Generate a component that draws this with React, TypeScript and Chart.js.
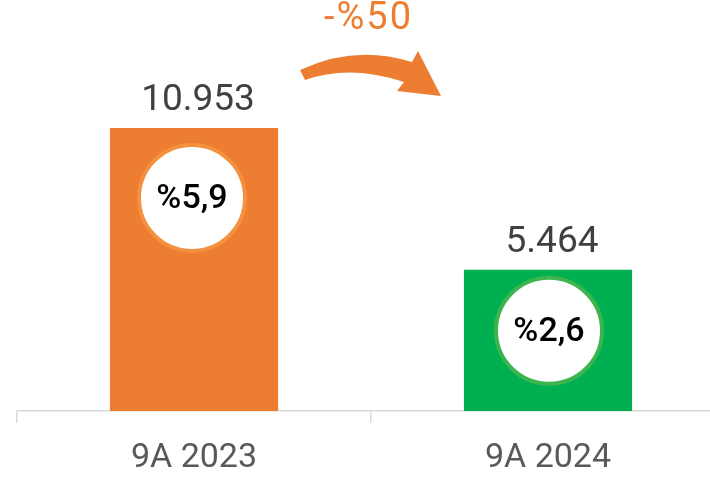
import React, { useEffect, useRef } from "react";
import { Chart, registerables } from "chart.js";

Chart.register(...registerables);

const categories = ["9A 2023", "9A 2024"];
const values = [10953, 5464];
const valueLabels = ["10.953", "5.464"];
const shareLabels = ["%5,9", "%2,6"];
const changeLabel = "-%50";
const barColors = ["#ED7D31", "#00B050"];
const ringColors = ["#F5903F", "#3DB54E"];

const FONT = "Roboto, 'Noto Sans', sans-serif";

const overlayPlugin = {
  id: "overlay",
  afterDatasetsDraw(chart: any) {
    const ctx = chart.ctx;
    const meta = chart.getDatasetMeta(0);
    const circleOffsets = [70, 61];
    meta.data.forEach((bar: any, i: number) => {
      const x = bar.x;
      const top = bar.y;
      ctx.save();
      ctx.fillStyle = "#404040";
      ctx.font = `400 37px ${FONT}`;
      ctx.textAlign = "center";
      ctx.textBaseline = "middle";
      ctx.fillText(valueLabels[i], x + 4, top - 27);
      const cx = x - (i === 0 ? 2 : -1);
      const cy = top + circleOffsets[i];
      ctx.beginPath();
      ctx.arc(cx, cy, 53, 0, Math.PI * 2);
      ctx.fillStyle = "#FFFFFF";
      ctx.fill();
      ctx.lineWidth = 4;
      ctx.strokeStyle = ringColors[i];
      ctx.stroke();
      ctx.fillStyle = "#000000";
      ctx.font = `500 34px ${FONT}`;
      ctx.fillText(shareLabels[i], cx, cy + 2);
      ctx.restore();
    });
  },
  afterDraw(chart: any) {
    const ctx = chart.ctx;
    ctx.save();
    ctx.fillStyle = "#ED7D31";
    ctx.beginPath();
    ctx.moveTo(300, 70);
    ctx.quadraticCurveTo(355, 44, 412, 62);
    ctx.lineTo(418, 51);
    ctx.lineTo(441, 96);
    ctx.lineTo(397, 91);
    ctx.lineTo(404, 82);
    ctx.quadraticCurveTo(350, 64, 305, 80);
    ctx.closePath();
    ctx.fill();
    ctx.font = `400 38px ${FONT}`;
    (ctx as any).letterSpacing = "2px";
    ctx.textAlign = "left";
    ctx.textBaseline = "middle";
    ctx.fillText(changeLabel, 324, 19);
    ctx.restore();
  },
};

export default function App() {
  const ref = useRef<HTMLCanvasElement>(null);
  useEffect(() => {
    if (!ref.current) return;
    const chart = new Chart(ref.current, {
      type: "bar",
      data: {
        labels: categories,
        datasets: [
          {
            data: values,
            backgroundColor: barColors,
            borderWidth: 0,
            categoryPercentage: 1,
            barPercentage: 0.475,
          },
        ],
      },
      options: {
        animation: false,
        responsive: false,
        layout: { padding: { left: 17, right: 2, top: 0, bottom: 0 } },
        plugins: { legend: { display: false }, tooltip: { enabled: false } },
        scales: {
          x: {
            afterFit: (scale: any) => {
              scale.height = 68;
            },
            grid: {
              offset: true,
              drawOnChartArea: false,
              drawTicks: true,
              tickLength: 12,
              color: "#D9D9D9",
              lineWidth: 1.5,
            },
            border: { display: true, color: "#D9D9D9", width: 1.5 },
            ticks: {
              color: "#595959",
              font: { family: FONT, size: 34 },
              padding: 15,
            },
          },
          y: { display: false, min: 0, max: 15900 },
        },
      },
      plugins: [overlayPlugin],
    });
    return () => chart.destroy();
  }, []);
  return (
    <div style={{ position: "fixed", left: 0, top: 0, width: 710, height: 479, overflow: "hidden", background: "#fff" }}>
      <canvas ref={ref} width={727} height={479} style={{ display: "block" }} />
    </div>
  );
}
